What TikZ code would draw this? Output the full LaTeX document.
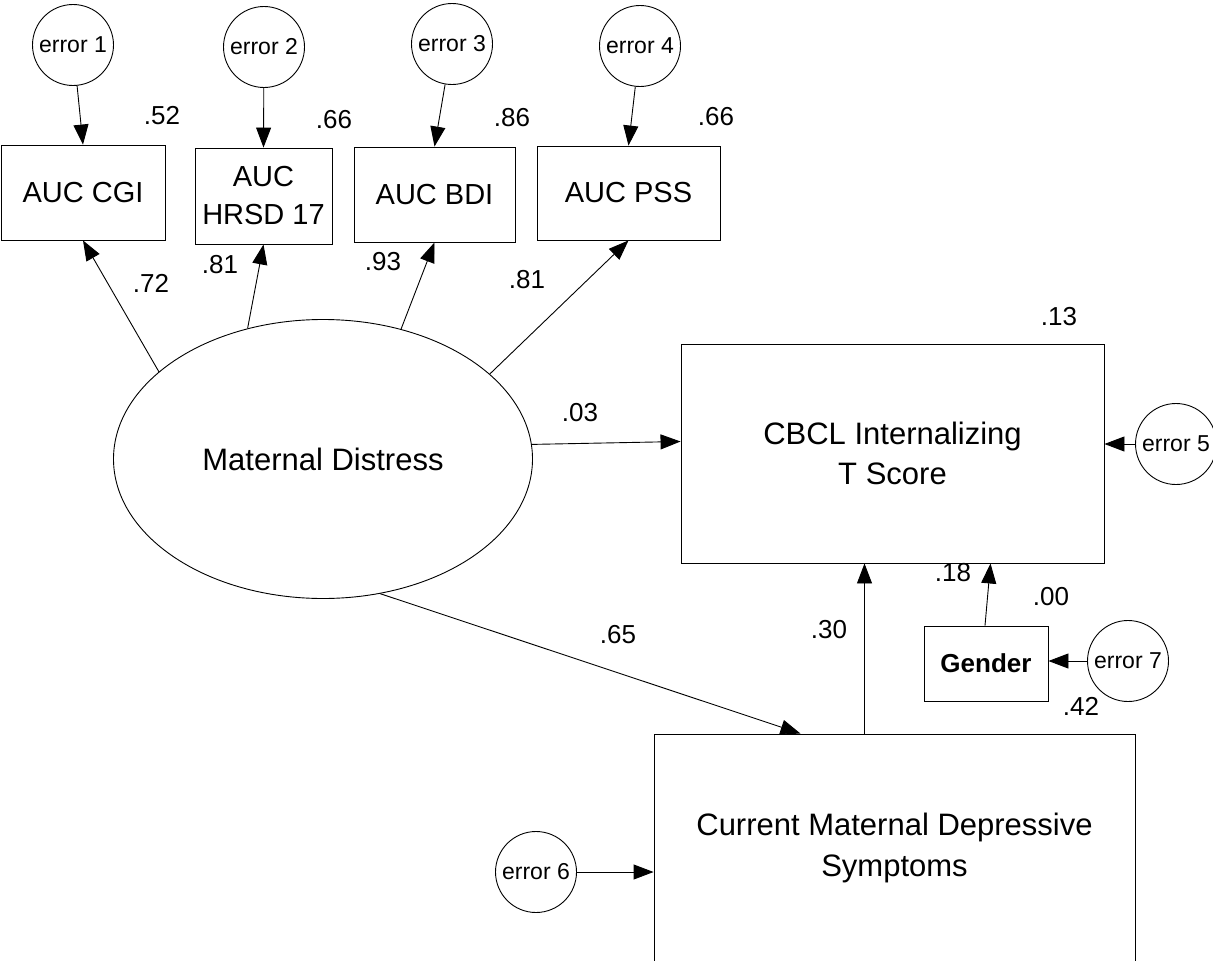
\documentclass[tikz,border=0pt]{standalone}
\usepackage{fontspec}
\setmainfont{Liberation Sans}
\usetikzlibrary{arrows.meta,shapes.geometric}

\begin{document}
\begin{tikzpicture}[x=1pt,y=-1pt,->,>={Triangle[length=20pt,width=15pt]},line width=0.9pt,
                    obs/.style={draw,rectangle,inner sep=0pt,align=center,font=\fontsize{29}{38}\selectfont},
                    err/.style={draw,circle,minimum size=81pt,inner sep=0pt,font=\fontsize{23}{24}\selectfont},
                    coef/.style={font=\fontsize{26}{28}\selectfont}]

  \useasboundingbox (0,0) rectangle (1213,961);

  % indicators
  \node[obs,minimum width=164pt,minimum height=95pt] (cgi)  at (83,192.5)  {AUC CGI};
  \node[obs,minimum width=137pt,minimum height=96pt] (hrsd) at (263.5,196) {AUC\\HRSD 17};
  \node[obs,minimum width=161pt,minimum height=95pt] (bdi)  at (434.5,194.5) {AUC BDI};
  \node[obs,minimum width=183pt,minimum height=94pt] (pss)  at (628.5,193) {AUC PSS};

  \node[err] (e1) at (73,45)  {error 1};
  \node[err] (e2) at (264,47) {error 2};
  \node[err] (e3) at (452,44) {error 3};
  \node[err] (e4) at (640,46) {error 4};

  % latent and outcomes
  \node[draw,ellipse,minimum width=419pt,minimum height=279pt,inner sep=0pt,
        font=\fontsize{31}{36}\selectfont] (md) at (323,459) {Maternal Distress};
  \node[obs,minimum width=423pt,minimum height=219pt,font=\fontsize{31}{40}\selectfont]
        (cbcl) at (892.5,453.5) {CBCL Internalizing\\T Score};
  \node[obs,minimum width=124pt,minimum height=75pt,font=\bfseries\fontsize{26}{30}\selectfont]
        (gender) at (986,663.5) {Gender};
  \node[obs,minimum width=481pt,minimum height=228pt,font=\fontsize{31}{41}\selectfont]
        (cds) at (894.5,848) {Current Maternal Depressive\\Symptoms};

  \node[err] (e5) at (1176,444) {error 5};
  \node[err] (e6) at (536,872)  {error 6};
  \node[err] (e7) at (1128,661) {error 7};

  % paths
  \draw (e1) -- (cgi.north);
  \draw (e2) -- (hrsd.north);
  \draw (e3) -- (bdi.north);
  \draw (e4) -- (pss.north);
  \draw (md.152.9) -- (cgi.south);
  \draw (md.120.1) -- (hrsd.south);
  \draw (md.59.9)  -- (bdi.south);
  \draw (md.27.2)  -- (pss.south);
  \draw (md.4)     -- ([yshift=12pt]cbcl.west);
  \draw (md.-67.3) -- ([xshift=-94pt]cds.north);
  \draw ([xshift=-30pt]cds.north) -- ([xshift=-28pt]cbcl.south);
  \draw ([xshift=-1pt]gender.north) -- ([xshift=98pt]cbcl.south);
  \draw (e5) -- (e5 -| cbcl.east);
  \draw (e6) -- (e6 -| cds.west);
  \draw (e7) -- (e7 -| gender.east);

  % estimates
  \node[coef] (rcgi)    at (162,116)  {.52};
  \node[coef] (rhrsd)   at (334,120)  {.66};
  \node[coef] (rbdi)    at (512,118)  {.86};
  \node[coef] (rpss)    at (716,117)  {.66};
  \node[coef] (rcbcl)   at (1059,317) {.13};
  \node[coef] (rgender) at (1051,597) {.00};
  \node[coef] (rcds)    at (1081,706) {.42};
  \node[coef] (wcgi)    at (151,283)  {.72};
  \node[coef] (whrsd)   at (220,265)  {.81};
  \node[coef] (wbdi)    at (383,262)  {.93};
  \node[coef] (wpss)    at (527,280)  {.81};
  \node[coef] (wcbcl)   at (580,413)  {.03};
  \node[coef] (wcds)    at (618,635)  {.65};
  \node[coef] (wdep)    at (829,630)  {.30};
  \node[coef] (wgender) at (953,573)  {.18};

\end{tikzpicture}
\end{document}
